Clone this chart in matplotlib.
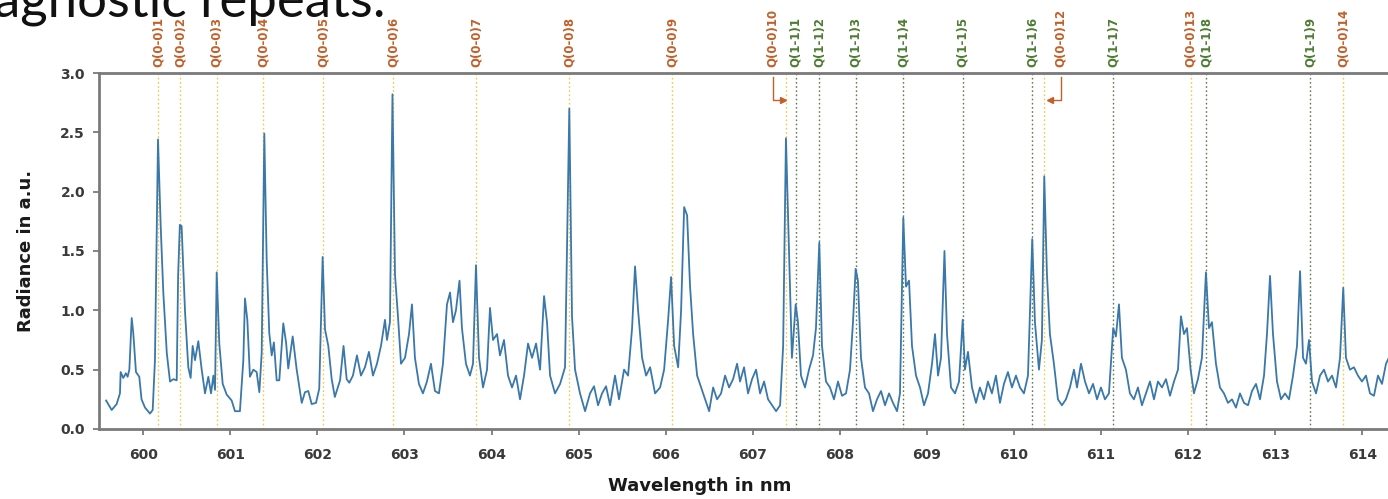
import matplotlib

matplotlib.use("Agg")
import matplotlib.pyplot as plt

# spectrum: wavelength (nm) and radiance (a.u.)
wavelength = [
    599.573, 599.637, 599.694, 599.732, 599.740, 599.770, 599.800, 599.820, 599.840, 599.867,
    599.885, 599.916, 599.954, 599.980, 600.020, 600.077, 600.108, 600.134, 600.169, 600.200,
    600.230, 600.270, 600.307, 600.345, 600.384, 600.400, 600.420, 600.440, 600.480, 600.517,
    600.544, 600.567, 600.594, 600.632, 600.671, 600.709, 600.747, 600.778, 600.805, 600.824,
    600.843, 600.873, 600.912, 600.958, 601.015, 601.053, 601.110, 601.149, 601.168, 601.195,
    601.225, 601.264, 601.302, 601.333, 601.360, 601.390, 601.417, 601.447, 601.475, 601.500,
    601.532, 601.562, 601.608, 601.640, 601.665, 601.716, 601.762, 601.820, 601.857, 601.895,
    601.934, 601.984, 602.021, 602.060, 602.087, 602.125, 602.164, 602.200, 602.260, 602.300,
    602.336, 602.366, 602.408, 602.454, 602.500, 602.546, 602.592, 602.638, 602.684, 602.730,
    602.776, 602.799, 602.833, 602.862, 602.891, 602.925, 602.960, 603.006, 603.052, 603.086,
    603.120, 603.166, 603.212, 603.258, 603.304, 603.350, 603.396, 603.442, 603.488, 603.523,
    603.557, 603.591, 603.632, 603.660, 603.706, 603.752, 603.787, 603.821, 603.856, 603.902,
    603.948, 603.982, 604.017, 604.063, 604.097, 604.143, 604.189, 604.235, 604.281, 604.327,
    604.373, 604.419, 604.465, 604.511, 604.557, 604.603, 604.637, 604.672, 604.729, 604.787,
    604.844, 604.893, 604.924, 604.959, 605.016, 605.074, 605.131, 605.177, 605.223, 605.269,
    605.315, 605.361, 605.418, 605.464, 605.522, 605.568, 605.614, 605.648, 605.683, 605.729,
    605.775, 605.821, 605.878, 605.936, 605.982, 606.028, 606.062, 606.097, 606.143, 606.177,
    606.212, 606.246, 606.280, 606.315, 606.361, 606.407, 606.453, 606.499, 606.545, 606.590,
    606.636, 606.682, 606.728, 606.774, 606.820, 606.854, 606.900, 606.946, 606.992, 607.038,
    607.084, 607.130, 607.176, 607.222, 607.268, 607.314, 607.349, 607.381, 607.416, 607.450,
    607.493, 607.519, 607.554, 607.600, 607.646, 607.692, 607.726, 607.764, 607.795, 607.841,
    607.887, 607.933, 607.979, 608.025, 608.071, 608.117, 608.151, 608.182, 608.208, 608.243,
    608.289, 608.335, 608.381, 608.427, 608.473, 608.519, 608.565, 608.611, 608.657, 608.691,
    608.729, 608.760, 608.795, 608.829, 608.875, 608.921, 608.967, 609.013, 609.059, 609.093,
    609.128, 609.162, 609.202, 609.231, 609.277, 609.323, 609.369, 609.411, 609.437, 609.472,
    609.518, 609.564, 609.609, 609.655, 609.701, 609.747, 609.793, 609.839, 609.885, 609.931,
    609.977, 610.023, 610.069, 610.115, 610.161, 610.210, 610.241, 610.287, 610.321, 610.348,
    610.379, 610.413, 610.459, 610.505, 610.551, 610.597, 610.643, 610.689, 610.724, 610.770,
    610.816, 610.862, 610.908, 610.954, 610.999, 611.045, 611.091, 611.140, 611.171, 611.206,
    611.240, 611.286, 611.332, 611.378, 611.424, 611.470, 611.516, 611.562, 611.608, 611.654,
    611.700, 611.746, 611.792, 611.838, 611.884, 611.918, 611.953, 611.987, 612.029, 612.067,
    612.113, 612.159, 612.205, 612.240, 612.274, 612.320, 612.366, 612.412, 612.458, 612.504,
    612.550, 612.596, 612.642, 612.688, 612.734, 612.780, 612.826, 612.872, 612.906, 612.941,
    612.975, 613.021, 613.067, 613.113, 613.159, 613.205, 613.251, 613.286, 613.320, 613.354,
    613.389, 613.423, 613.469, 613.515, 613.561, 613.607, 613.653, 613.699, 613.745, 613.782,
    613.813, 613.859, 613.905, 613.951, 613.997, 614.043, 614.089, 614.135, 614.181, 614.227,
    614.273, 614.319,
]
radiance = [
    0.24, 0.16, 0.21, 0.30, 0.48, 0.43, 0.47, 0.44, 0.50, 0.935,
    0.81, 0.48, 0.44, 0.25, 0.18, 0.13, 0.16, 0.58, 2.44, 1.71,
    1.15, 0.64, 0.40, 0.42, 0.41, 1.29, 1.72, 1.71, 0.98, 0.52,
    0.43, 0.70, 0.58, 0.74, 0.50, 0.30, 0.44, 0.30, 0.45, 0.33,
    1.32, 0.72, 0.38, 0.29, 0.24, 0.15, 0.15, 0.58, 1.10, 0.92,
    0.44, 0.50, 0.48, 0.31, 0.64, 2.49, 1.43, 0.81, 0.62, 0.73,
    0.41, 0.41, 0.89, 0.73, 0.51, 0.78, 0.50, 0.22, 0.31, 0.32,
    0.21, 0.22, 0.34, 1.45, 0.84, 0.70, 0.42, 0.27, 0.41, 0.70,
    0.42, 0.39, 0.45, 0.62, 0.45, 0.52, 0.65, 0.45, 0.55, 0.70,
    0.92, 0.75, 0.90, 2.82, 1.30, 0.95, 0.55, 0.60, 0.80, 1.05,
    0.60, 0.38, 0.30, 0.40, 0.55, 0.32, 0.30, 0.55, 1.05, 1.15,
    0.90, 1.00, 1.25, 0.85, 0.55, 0.45, 0.55, 1.38, 0.60, 0.35,
    0.50, 1.02, 0.75, 0.80, 0.62, 0.75, 0.45, 0.35, 0.45, 0.25,
    0.45, 0.72, 0.60, 0.72, 0.50, 1.12, 0.90, 0.45, 0.30, 0.38,
    0.52, 2.70, 0.95, 0.50, 0.30, 0.15, 0.30, 0.36, 0.20, 0.30,
    0.36, 0.20, 0.45, 0.25, 0.50, 0.45, 0.85, 1.37, 1.00, 0.60,
    0.45, 0.52, 0.30, 0.35, 0.50, 0.92, 1.28, 0.70, 0.52, 1.00,
    1.87, 1.80, 1.20, 0.80, 0.45, 0.35, 0.25, 0.15, 0.35, 0.25,
    0.30, 0.45, 0.35, 0.42, 0.55, 0.40, 0.52, 0.30, 0.42, 0.50,
    0.30, 0.40, 0.25, 0.20, 0.15, 0.20, 0.70, 2.45, 1.50, 0.60,
    1.05, 0.90, 0.45, 0.35, 0.50, 0.62, 0.85, 1.57, 0.70, 0.40,
    0.35, 0.25, 0.40, 0.28, 0.30, 0.50, 0.90, 1.35, 1.25, 0.60,
    0.35, 0.30, 0.15, 0.25, 0.32, 0.20, 0.30, 0.22, 0.15, 0.30,
    1.78, 1.20, 1.25, 0.70, 0.45, 0.35, 0.20, 0.30, 0.55, 0.80,
    0.45, 0.60, 1.50, 0.80, 0.35, 0.30, 0.40, 0.92, 0.50, 0.65,
    0.35, 0.22, 0.35, 0.25, 0.40, 0.30, 0.45, 0.22, 0.38, 0.48,
    0.35, 0.45, 0.35, 0.30, 0.45, 1.60, 0.90, 0.50, 0.75, 2.13,
    1.30, 0.80, 0.55, 0.25, 0.20, 0.25, 0.35, 0.50, 0.35, 0.55,
    0.40, 0.30, 0.38, 0.25, 0.35, 0.25, 0.30, 0.85, 0.78, 1.05,
    0.60, 0.50, 0.30, 0.25, 0.35, 0.20, 0.30, 0.40, 0.25, 0.40,
    0.35, 0.42, 0.28, 0.40, 0.50, 0.95, 0.80, 0.85, 0.50, 0.30,
    0.42, 0.60, 1.32, 0.85, 0.90, 0.55, 0.35, 0.30, 0.22, 0.25,
    0.18, 0.30, 0.22, 0.20, 0.32, 0.38, 0.25, 0.45, 0.80, 1.29,
    0.80, 0.40, 0.25, 0.30, 0.25, 0.45, 0.70, 1.33, 0.60, 0.55,
    0.75, 0.40, 0.30, 0.45, 0.50, 0.40, 0.45, 0.35, 0.60, 1.19,
    0.60, 0.50, 0.52, 0.45, 0.40, 0.45, 0.30, 0.28, 0.45, 0.38,
    0.55, 0.62,
]

# line identifications (nm)
q00_labels = ["Q(0-0)1", "Q(0-0)2", "Q(0-0)3", "Q(0-0)4", "Q(0-0)5", "Q(0-0)6", "Q(0-0)7",
              "Q(0-0)8", "Q(0-0)9", "Q(0-0)10", "Q(0-0)12", "Q(0-0)13", "Q(0-0)14"]
q00_pos = [600.172, 600.421, 600.843, 601.378, 602.067, 602.871, 603.821,
           604.893, 606.076, 607.381, 610.348, 612.029, 613.782]
q11_labels = ["Q(1-1)1", "Q(1-1)2", "Q(1-1)3", "Q(1-1)4", "Q(1-1)5", "Q(1-1)6", "Q(1-1)7",
              "Q(1-1)8", "Q(1-1)9"]
q11_pos = [607.493, 607.764, 608.182, 608.729, 609.411, 610.210, 611.140, 612.205, 613.400]

# crowded labels sit aside and point back with an arrow: (label x, arrow tip x)
shifted = {"Q(0-0)10": (607.229, 607.347), "Q(0-0)12": (610.536, 610.413)}

xticks = list(range(600, 615))
yticks = [0.0, 0.5, 1.0, 1.5, 2.0, 2.5, 3.0]

ORANGE = "#c0612b"
GREEN = "#4d7c32"
GOLD = "#f0c84a"
GRIDGREEN = "#5e7d52"

fig = plt.figure(figsize=(13.88, 4.99), dpi=100)
ax = fig.add_axes([0.0713, 0.1403, 0.9287, 0.7134])

ax.plot(wavelength, radiance, color="#3a78a9", lw=1.3, zorder=3)

for pos in q00_pos:
    ax.plot([pos, pos], [0, 3.0], color=GOLD, lw=1.0, ls=(0, (1.2, 1.8)), zorder=2)
for pos in q11_pos:
    ax.plot([pos, pos], [0, 3.0], color=GRIDGREEN, lw=1.0, ls=(0, (1.2, 1.8)), zorder=2)

label_y = 3.05
for lab, pos in zip(q00_labels, q00_pos):
    xt = pos
    if lab in shifted:
        xt, tip = shifted[lab]
        ax.plot([xt, xt, tip], [2.97, 2.77, 2.77], color=ORANGE, lw=1.0, clip_on=False)
        ax.plot([tip], [2.77], marker=">" if tip > xt else "<", color=ORANGE,
                markersize=5, clip_on=False)
    ax.text(xt, label_y, lab, rotation=90, ha="center", va="bottom", fontsize=8.5,
            color=ORANGE, fontweight="bold", clip_on=False)
for lab, pos in zip(q11_labels, q11_pos):
    ax.text(pos, label_y, lab, rotation=90, ha="center", va="bottom", fontsize=8.5,
            color=GREEN, fontweight="bold", clip_on=False)

ax.set_xlim(599.491, 614.296)
ax.set_ylim(0, 3.0)
ax.set_xticks(xticks)
ax.set_xticklabels([str(t) for t in xticks])
ax.set_yticks(yticks)
ax.set_yticklabels([f"{t:.1f}" for t in yticks])

for lab in ax.get_xticklabels() + ax.get_yticklabels():
    lab.set_fontweight("bold")
    lab.set_fontsize(10)
    lab.set_color("#3a3a3a")
ax.tick_params(axis="x", direction="out", length=4, width=1.2, color="#707070", pad=10)
ax.tick_params(axis="y", direction="out", length=4, width=1.2, color="#707070", pad=6)

ax.spines["right"].set_visible(False)
for side in ["left", "bottom", "top"]:
    ax.spines[side].set_color("#7a7a7a")
    ax.spines[side].set_linewidth(2.0)

ax.set_xlabel("Wavelength in nm", fontsize=13, fontweight="bold", color="#1a1a1a")
ax.xaxis.set_label_coords(0.466, -0.135)
ax.set_ylabel("Radiance in a.u.", fontsize=13, fontweight="bold", color="#1a1a1a")
ax.yaxis.set_label_coords(-0.050, 0.5)

# slide heading, cut off at the top of the screenshot
fig.text(-0.004, 0.966, "agnostic repeats:", fontsize=38, family="Lato",
         color="#111111", ha="left", va="baseline")

fig.savefig("out.png", dpi=100)
plt.close(fig)
